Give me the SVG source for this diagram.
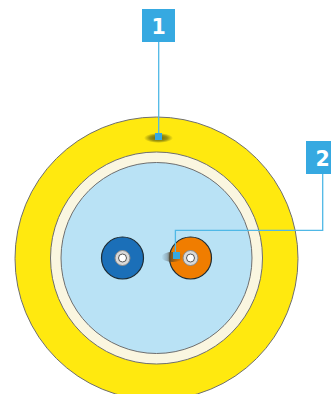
<svg xmlns="http://www.w3.org/2000/svg" width="331" height="394" viewBox="0 0 331 394">
<style>
.ring{stroke:#6f6f6f;stroke-width:1}
.core{stroke:#1d2b33;stroke-width:1.2}
.hub{fill:#d9d9d9;stroke:#8a8a8a;stroke-width:1}
.hole{fill:#fff;stroke:#555;stroke-width:1}
.lead{fill:none;stroke:#4fb8e6;stroke-width:1.3}
.dot{fill:#36a9e1}
.box{fill:#36a9e1}
.num{font-family:"DejaVu Sans",sans-serif;font-weight:700;font-size:20.5px;fill:#fff;text-anchor:middle}
</style>
<defs>
<radialGradient id="sh"><stop offset="0" stop-color="#4a4a10" stop-opacity=".85"/><stop offset=".6" stop-color="#5a5a10" stop-opacity=".6"/><stop offset="1" stop-color="#5a5a10" stop-opacity="0"/></radialGradient>
<linearGradient id="sh2" x1="0" x2="1"><stop offset="0" stop-color="#6f8c9c" stop-opacity="0"/><stop offset=".25" stop-color="#7a8f9c" stop-opacity=".6"/><stop offset=".4" stop-color="#5e4a28" stop-opacity=".85"/><stop offset="1" stop-color="#a55a00" stop-opacity="0"/></linearGradient>
</defs>
<g id="cable">
<circle class="ring" cx="156.5" cy="258.5" r="141.5" fill="#ffe90f"/>
<circle class="ring" cx="156.5" cy="258" r="106" fill="#faf6e0"/>
<circle class="ring" cx="156.5" cy="258" r="95.5" fill="#b9e2f5"/>
</g>
<g id="core-blue">
<circle class="core" cx="122.5" cy="258" r="21" fill="#1b6fb8"/>
<circle class="hub" cx="122.5" cy="258" r="7.5"/>
<circle class="hole" cx="122.5" cy="258" r="4"/>
</g>
<g id="core-orange">
<circle class="core" cx="190.5" cy="258" r="21" fill="#f07d00"/>
<ellipse cx="172.5" cy="257" rx="11" ry="5" fill="url(#sh2)"/>
<circle class="hub" cx="190.5" cy="258" r="7.5"/>
<circle class="hole" cx="190.5" cy="258" r="4"/>
</g>
<ellipse cx="158.5" cy="138" rx="14.5" ry="5" fill="url(#sh)"/>
<g id="connectors">
<path class="lead" d="M158.7 42V136"/>
<path class="lead" d="M322.7 174V230.4H175.4V255"/>
<rect class="dot" x="155" y="133" width="7" height="7"/>
<rect class="dot" x="173" y="252" width="7" height="7"/>
</g>
<g id="label-1">
<rect class="box" x="142" y="9" width="33" height="33"/>
<text class="num" x="158.7" y="34">1</text>
</g>
<g id="label-2">
<rect class="box" x="306" y="141" width="25" height="33"/>
<text class="num" x="322.7" y="166">2</text>
</g>
</svg>
